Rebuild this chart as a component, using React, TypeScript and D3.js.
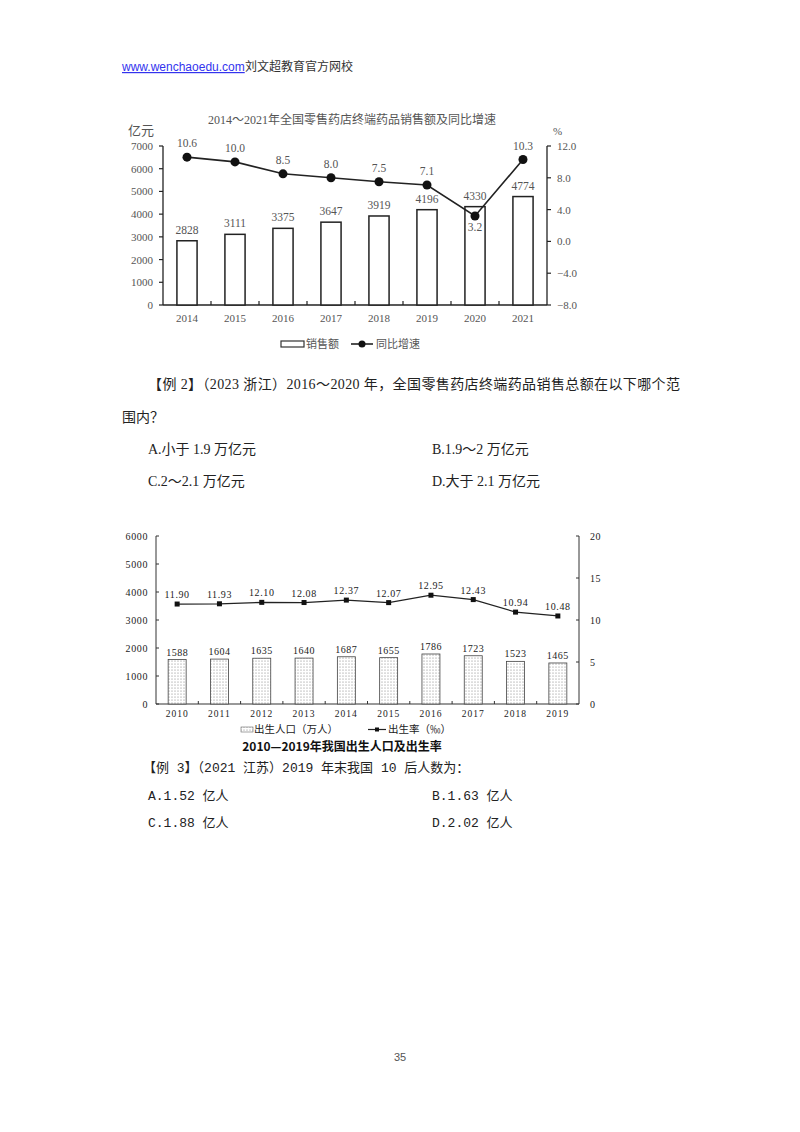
import React from "react";
import * as d3 from "d3";

const years1 = ["2014", "2015", "2016", "2017", "2018", "2019", "2020", "2021"];
const sales = [2828, 3111, 3375, 3647, 3919, 4196, 4330, 4774];
const growth = [10.6, 10.0, 8.5, 8.0, 7.5, 7.1, 3.2, 10.3];
const leftTicks1 = [0, 1000, 2000, 3000, 4000, 5000, 6000, 7000];
const rightTicks1 = [-8, -4, 0, 4, 8, 12];

const years2 = ["2010", "2011", "2012", "2013", "2014", "2015", "2016", "2017", "2018", "2019"];
const births = [1588, 1604, 1635, 1640, 1687, 1655, 1786, 1723, 1523, 1465];
const rates = [11.9, 11.93, 12.1, 12.08, 12.37, 12.07, 12.95, 12.43, 10.94, 10.48];
const leftTicks2 = [0, 1000, 2000, 3000, 4000, 5000, 6000];
const rightTicks2 = [0, 5, 10, 15, 20];

const SERIF = "'Liberation Serif', 'Times New Roman', 'Noto Sans CJK SC', serif";
const CJK = "'Noto Sans CJK SC', sans-serif";
const MONO = "'Liberation Mono', 'Noto Sans CJK SC', monospace";

function Chart1() {
  const x = d3.scaleBand<string>().domain(years1).range([163, 547]).paddingInner(0.58).paddingOuter(0.29);
  const yL = d3.scaleLinear().domain([0, 7000]).range([305, 146]);
  const yR = d3.scaleLinear().domain([-8, 12]).range([305, 146]);
  const cx = (d: string) => (x(d) as number) + x.bandwidth() / 2;
  const line = d3.line<number>().x((_, i) => cx(years1[i])).y((v) => yR(v));
  const step = x.step();
  const col = "#555";
  return (
    <g>
      <text x={352} y={124} textAnchor="middle" fontSize={12} fill={col} fontFamily={SERIF}>
        2014～2021年全国零售药店终端药品销售额及同比增速
      </text>
      <text x={128} y={135} fontSize={13} fill={col} fontFamily={CJK}>亿元</text>
      <text x={553} y={135} fontSize={11} fill={col} fontFamily={SERIF}>%</text>
      {/* left axis */}
      <line x1={163} x2={163} y1={yL(7000)} y2={305} stroke="#222" strokeWidth={1.3} />
      {leftTicks1.map((t) => (
        <g key={t}>
          <line x1={159} x2={163} y1={yL(t)} y2={yL(t)} stroke="#222" strokeWidth={1.2} />
          <text x={153} y={yL(t) + 4} textAnchor="end" fontSize={11} fill={col} fontFamily={SERIF}>{t}</text>
        </g>
      ))}
      {/* right axis */}
      <line x1={547} x2={547} y1={yR(12)} y2={305} stroke="#222" strokeWidth={1.3} />
      {rightTicks1.map((t) => (
        <g key={t}>
          <line x1={547} x2={551} y1={yR(t)} y2={yR(t)} stroke="#222" strokeWidth={1.2} />
          <text x={557} y={yR(t) + 4} fontSize={11} fill={col} fontFamily={SERIF}>{d3.format(".1f")(t)}</text>
        </g>
      ))}
      {/* x axis */}
      <line x1={163} x2={547} y1={305} y2={305} stroke="#222" strokeWidth={1.3} />
      {years1.map((d, i) => (
        <g key={d}>
          {i > 0 && <line x1={(x(d) as number) - (step - x.bandwidth()) / 2} x2={(x(d) as number) - (step - x.bandwidth()) / 2} y1={305} y2={301} stroke="#222" strokeWidth={1.2} />}
          <text x={cx(d)} y={322} textAnchor="middle" fontSize={11} fill={col} fontFamily={SERIF}>{d}</text>
        </g>
      ))}
      {/* bars */}
      {years1.map((d, i) => (
        <g key={d}>
          <rect x={x(d)} y={yL(sales[i])} width={x.bandwidth()} height={305 - yL(sales[i])} fill="#fff" stroke="#222" strokeWidth={1.5} />
          <text x={cx(d)} y={yL(sales[i]) - 7} textAnchor="middle" fontSize={11.5} fill={col} fontFamily={SERIF}>{sales[i]}</text>
        </g>
      ))}
      {/* line */}
      <path d={line(growth) as string} fill="none" stroke="#222" strokeWidth={1.6} />
      {growth.map((v, i) => (
        <g key={i}>
          <circle cx={cx(years1[i])} cy={yR(v)} r={4.5} fill="#111" />
          <text x={cx(years1[i])} y={i === 6 ? yR(v) + 15 : yR(v) - 10} textAnchor="middle" fontSize={11.5} fill={col} fontFamily={SERIF}>
            {d3.format(".1f")(v)}
          </text>
        </g>
      ))}
      {/* legend */}
      <rect x={281} y={341} width={23} height={6} fill="#fff" stroke="#333" strokeWidth={1.2} />
      <text x={306} y={348} fontSize={11} fill={col} fontFamily={CJK}>销售额</text>
      <line x1={351} x2={373} y1={344} y2={344} stroke="#222" strokeWidth={1.6} />
      <circle cx={362} cy={344} r={3.5} fill="#111" />
      <text x={376} y={348} fontSize={11} fill={col} fontFamily={CJK}>同比增速</text>
    </g>
  );
}

function Chart2() {
  const x = d3.scaleBand<string>().domain(years2).range([156, 579]).paddingInner(0.575).paddingOuter(0.2875);
  const yL = d3.scaleLinear().domain([0, 6000]).range([704, 536]);
  const yR = d3.scaleLinear().domain([0, 20]).range([704, 536]);
  const cx = (d: string) => (x(d) as number) + x.bandwidth() / 2;
  const line = d3.line<number>().x((_, i) => cx(years2[i])).y((v) => yR(v));
  const step = x.step();
  const col = "#222";
  return (
    <g>
      <defs>
        <pattern id="dots" width={3} height={3} patternUnits="userSpaceOnUse">
          <rect width={3} height={3} fill="#fff" />
          <circle cx={1} cy={1} r={0.55} fill="#777" />
        </pattern>
      </defs>
      <line x1={156} x2={156} y1={536} y2={704} stroke="#333" strokeWidth={1} />
      {leftTicks2.map((t) => (
        <g key={t}>
          <line x1={156} x2={159} y1={yL(t)} y2={yL(t)} stroke="#333" strokeWidth={1} />
          <text x={148} y={yL(t) + 3.5} textAnchor="end" fontSize={10} fill={col} fontFamily={SERIF} letterSpacing={0.6}>{t}</text>
        </g>
      ))}
      <line x1={579} x2={579} y1={536} y2={704} stroke="#333" strokeWidth={1} />
      {rightTicks2.map((t) => (
        <g key={t}>
          <line x1={576} x2={579} y1={yR(t)} y2={yR(t)} stroke="#333" strokeWidth={1} />
          <text x={590} y={yR(t) + 3.5} fontSize={10} fill={col} fontFamily={SERIF} letterSpacing={0.6}>{t}</text>
        </g>
      ))}
      <line x1={156} x2={579} y1={704} y2={704} stroke="#333" strokeWidth={1} />
      {years2.map((d, i) => (
        <g key={d}>
          {i > 0 && <line x1={(x(d) as number) - (step - x.bandwidth()) / 2} x2={(x(d) as number) - (step - x.bandwidth()) / 2} y1={704} y2={701} stroke="#333" strokeWidth={1} />}
          <text x={cx(d)} y={717} textAnchor="middle" fontSize={9.5} fill={col} fontFamily={SERIF} letterSpacing={1}>{d}</text>
        </g>
      ))}
      {years2.map((d, i) => (
        <g key={d}>
          <rect x={x(d)} y={yL(births[i])} width={x.bandwidth()} height={704 - yL(births[i])} fill="url(#dots)" stroke="#444" strokeWidth={0.8} />
          <text x={cx(d)} y={yL(births[i]) - 4} textAnchor="middle" fontSize={10} fill={col} fontFamily={SERIF} letterSpacing={0.5}>{births[i]}</text>
        </g>
      ))}
      <path d={line(rates) as string} fill="none" stroke="#222" strokeWidth={1.2} />
      {rates.map((v, i) => (
        <g key={i}>
          <rect x={cx(years2[i]) - 2.5} y={yR(v) - 2.5} width={5} height={5} fill="#111" />
          <text x={cx(years2[i])} y={yR(v) - 6} textAnchor="middle" fontSize={10} fill={col} fontFamily={SERIF} letterSpacing={0.6}>
            {d3.format(".2f")(v)}
          </text>
        </g>
      ))}
      {/* legend */}
      <rect x={241} y={727} width={12} height={5} fill="url(#dots)" stroke="#666" strokeWidth={0.6} />
      <text x={254} y={733} fontSize={10.5} fill={col} fontFamily={CJK}>出生人口（万人）</text>
      <line x1={368} x2={386} y1={729.5} y2={729.5} stroke="#222" strokeWidth={1.2} />
      <rect x={375} y={727.5} width={4} height={4} fill="#111" />
      <text x={388} y={733} fontSize={10.5} fill={col} fontFamily={CJK}>出生率（‰）</text>
      <text x={342} y={751} textAnchor="middle" fontSize={12} fill="#111" fontWeight={600} fontFamily={CJK}>
        2010—2019年我国出生人口及出生率
      </text>
    </g>
  );
}

export default function App() {
  const txt = "#222";
  return (
    <div style={{ position: "absolute", left: 0, top: 0 }}>
      <svg width={800} height={1132} viewBox="0 0 800 1132" style={{ display: "block", background: "#fff" }}>
        <rect width={800} height={1132} fill="#fff" />
        <text x={122} y={71} fontSize={12} fill="#3333ee" fontFamily="'Liberation Sans', Arial, sans-serif" textDecoration="underline">
          www.wenchaoedu.com
        </text>
        <text x={245} y={71} fontSize={12} fill="#333" fontFamily={CJK}>刘文超教育官方网校</text>

        <Chart1 />

        <text x={148} y={389} fontSize={14} fill={txt} fontFamily={SERIF} textLength={532} lengthAdjust="spacing">
          【例 2】（2023 浙江）2016～2020 年，全国零售药店终端药品销售总额在以下哪个范
        </text>
        <text x={122} y={422} fontSize={14} fill={txt} fontFamily={SERIF}>围内？</text>
        <text x={148} y={454} fontSize={14} fill={txt} fontFamily={SERIF}>A.小于 1.9 万亿元</text>
        <text x={432} y={454} fontSize={14} fill={txt} fontFamily={SERIF}>B.1.9～2 万亿元</text>
        <text x={148} y={486} fontSize={14} fill={txt} fontFamily={SERIF}>C.2～2.1 万亿元</text>
        <text x={432} y={486} fontSize={14} fill={txt} fontFamily={SERIF}>D.大于 2.1 万亿元</text>

        <Chart2 />

        <text x={143} y={772} fontSize={13} fill={txt} fontFamily={MONO}>【例 3】（2021 江苏）2019 年末我国 10 后人数为：</text>
        <text x={148} y={800} fontSize={13} fill={txt} fontFamily={MONO}>A.1.52 亿人</text>
        <text x={432} y={800} fontSize={13} fill={txt} fontFamily={MONO}>B.1.63 亿人</text>
        <text x={148} y={827} fontSize={13} fill={txt} fontFamily={MONO}>C.1.88 亿人</text>
        <text x={432} y={827} fontSize={13} fill={txt} fontFamily={MONO}>D.2.02 亿人</text>

        <text x={400} y={1061} textAnchor="middle" fontSize={11} fill="#555" fontFamily="'Liberation Sans', Arial, sans-serif">35</text>
      </svg>
    </div>
  );
}
